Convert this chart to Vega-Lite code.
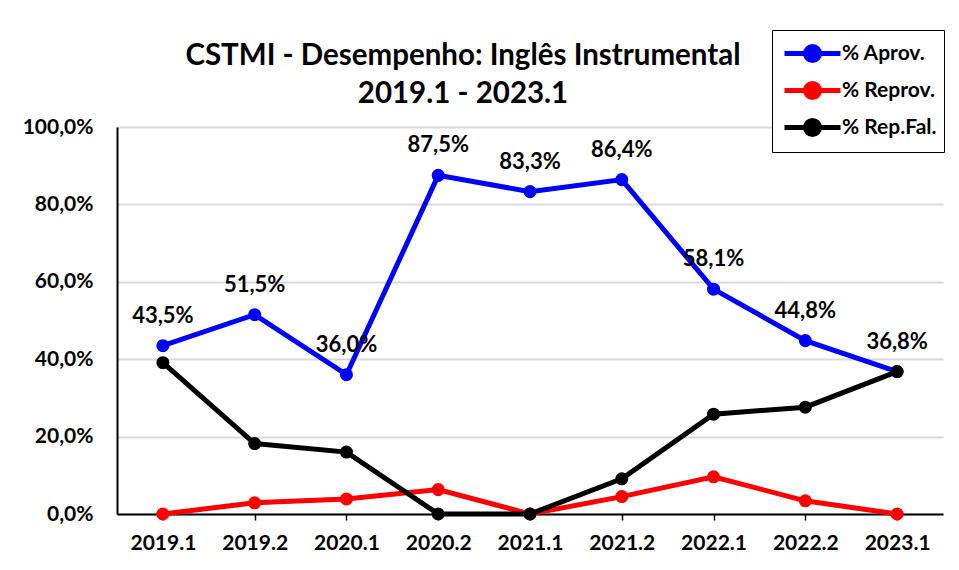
{
  "$schema": "https://vega.github.io/schema/vega-lite/v6.json",
  "width": 826,
  "height": 387,
  "autosize": {"type": "none"},
  "padding": {"left": 117, "top": 127, "right": 16, "bottom": 56},
  "background": "white",
  "config": {
    "locale": {"number": {"decimal": ",", "thousands": ".", "grouping": [3], "currency": ["", ""]}},
    "view": {"stroke": null},
    "font": "Lato"
  },
  "title": {
    "text": ["CSTMI - Desempenho: Inglês Instrumental", "2019.1 - 2023.1"],
    "font": "Lato",
    "fontSize": 29.5,
    "fontWeight": "bold",
    "color": "black",
    "anchor": "middle",
    "frame": "group",
    "dx": -67,
    "offset": -80,
    "lineHeight": 38
  },
  "data": {
    "values": [
      {"periodo": "2019.1", "serie": "% Aprov.", "valor": 0.435},
      {"periodo": "2019.2", "serie": "% Aprov.", "valor": 0.515},
      {"periodo": "2020.1", "serie": "% Aprov.", "valor": 0.360},
      {"periodo": "2020.2", "serie": "% Aprov.", "valor": 0.875},
      {"periodo": "2021.1", "serie": "% Aprov.", "valor": 0.833},
      {"periodo": "2021.2", "serie": "% Aprov.", "valor": 0.864},
      {"periodo": "2022.1", "serie": "% Aprov.", "valor": 0.581},
      {"periodo": "2022.2", "serie": "% Aprov.", "valor": 0.448},
      {"periodo": "2023.1", "serie": "% Aprov.", "valor": 0.368},
      {"periodo": "2019.1", "serie": "% Reprov.", "valor": 0.0},
      {"periodo": "2019.2", "serie": "% Reprov.", "valor": 0.029},
      {"periodo": "2020.1", "serie": "% Reprov.", "valor": 0.039},
      {"periodo": "2020.2", "serie": "% Reprov.", "valor": 0.063},
      {"periodo": "2021.1", "serie": "% Reprov.", "valor": 0.0},
      {"periodo": "2021.2", "serie": "% Reprov.", "valor": 0.045},
      {"periodo": "2022.1", "serie": "% Reprov.", "valor": 0.096},
      {"periodo": "2022.2", "serie": "% Reprov.", "valor": 0.034},
      {"periodo": "2023.1", "serie": "% Reprov.", "valor": 0.0},
      {"periodo": "2019.1", "serie": "% Rep.Fal.", "valor": 0.391},
      {"periodo": "2019.2", "serie": "% Rep.Fal.", "valor": 0.182},
      {"periodo": "2020.1", "serie": "% Rep.Fal.", "valor": 0.160},
      {"periodo": "2020.2", "serie": "% Rep.Fal.", "valor": 0.0},
      {"periodo": "2021.1", "serie": "% Rep.Fal.", "valor": 0.0},
      {"periodo": "2021.2", "serie": "% Rep.Fal.", "valor": 0.091},
      {"periodo": "2022.1", "serie": "% Rep.Fal.", "valor": 0.258},
      {"periodo": "2022.2", "serie": "% Rep.Fal.", "valor": 0.276},
      {"periodo": "2023.1", "serie": "% Rep.Fal.", "valor": 0.368}
    ]
  },
  "layer": [
    {
      "mark": {"type": "line", "strokeWidth": 5, "point": {"size": 170, "filled": true, "opacity": 1}},
      "encoding": {
        "x": {
          "field": "periodo", "type": "ordinal",
          "scale": {"type": "point", "padding": 0.5},
          "axis": {
            "title": null, "labelAngle": 0, "labelFont": "Lato", "labelFontSize": 21,
            "labelFontWeight": "bold", "labelColor": "black", "domainColor": "black",
            "domainWidth": 2, "tickColor": "black", "tickWidth": 1.5, "tickSize": 6,
            "labelPadding": 12, "grid": false
          }
        },
        "y": {
          "field": "valor", "type": "quantitative",
          "scale": {"domain": [0, 1]},
          "axis": {
            "title": null, "values": [0, 0.2, 0.4, 0.6, 0.8, 1], "format": ".1%",
            "labelFont": "Lato", "labelFontSize": 21, "labelFontWeight": "bold",
            "labelColor": "black", "domainColor": "black", "domainWidth": 2,
            "ticks": false, "tickSize": 0, "labelPadding": 24,
            "gridColor": "#d9d9d9", "gridWidth": 2
          }
        },
        "color": {
          "field": "serie", "type": "nominal",
          "scale": {"domain": ["% Aprov.", "% Reprov.", "% Rep.Fal."], "range": ["#0000FF", "#FF0000", "#000000"]},
          "legend": {
            "orient": "none", "legendX": 655, "legendY": -97, "title": null,
            "labelFont": "Lato", "labelFontSize": 21, "labelFontWeight": "bold", "labelColor": "black",
            "symbolType": "M-2,0L2,0M0.5,0A0.5,0.5,0,1,1,-0.5,0A0.5,0.5,0,1,1,0.5,0",
            "symbolSize": 784, "symbolStrokeWidth": 5,
            "strokeColor": "black", "fillColor": "white",
            "padding": 7, "rowPadding": 2, "symbolOffset": 17, "labelOffset": 13,
            "encode": {"symbols": {"update": {"fill": {"scale": "color", "field": "value"}, "opacity": {"value": 1}}}}
          }
        }
      }
    },
    {
      "transform": [{"filter": "datum.serie === '% Aprov.'"}],
      "mark": {"type": "text", "dy": -30, "font": "Lato", "fontSize": 22, "fontWeight": "bold", "color": "black"},
      "encoding": {
        "x": {"field": "periodo", "type": "ordinal", "scale": {"type": "point", "padding": 0.5}},
        "y": {"field": "valor", "type": "quantitative", "scale": {"domain": [0, 1]}},
        "text": {"field": "valor", "type": "quantitative", "format": ".1%"}
      }
    }
  ]
}
